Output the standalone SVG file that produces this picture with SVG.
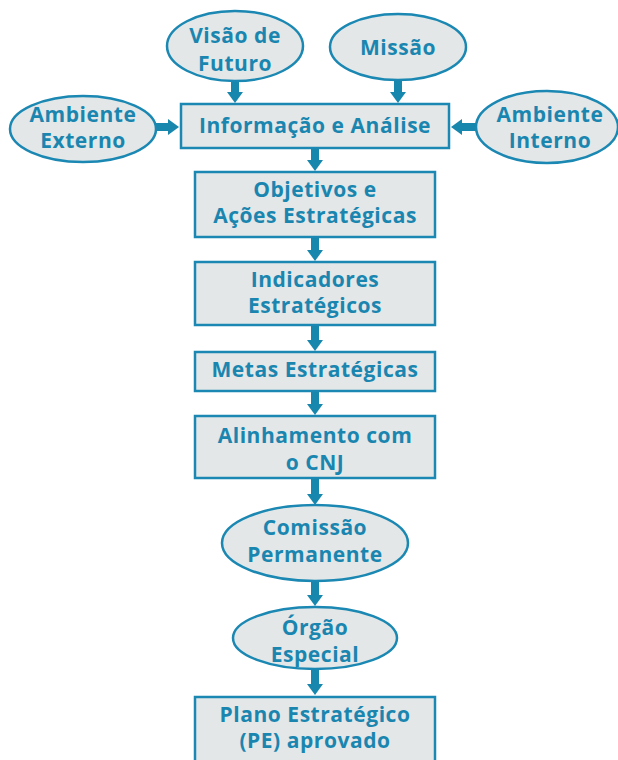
<svg xmlns="http://www.w3.org/2000/svg" width="618" height="760" viewBox="0 0 618 760">
<style>
.n{fill:#e3e7e8;stroke:#1a88b2;stroke-width:2.5}
.t{font-family:"Open Sans",Lato,"Liberation Sans",sans-serif;font-weight:bold;font-size:21px;letter-spacing:0.55px;fill:#1a86b0;text-anchor:middle}
.c{stroke:#1787ad;stroke-width:8;fill:none;marker-end:url(#ah)}
</style>
<defs>
<marker id="ah" markerUnits="userSpaceOnUse" markerWidth="12" markerHeight="18" viewBox="0 -9 12 18" refX="0" refY="0" orient="auto">
<path d="M0,-8 L11,0 L0,8 z" fill="#1787ad"/>
</marker>
</defs>
<rect width="618" height="760" fill="#ffffff"/>
<g id="connectors">
<line class="c" x1="235" y1="80" x2="235" y2="92"/>
<line class="c" x1="398" y1="79" x2="398" y2="92"/>
<line class="c" x1="156" y1="127" x2="168" y2="127"/>
<line class="c" x1="476" y1="127" x2="462" y2="127"/>
<line class="c" x1="315" y1="148" x2="315" y2="160"/>
<line class="c" x1="315" y1="237" x2="315" y2="250"/>
<line class="c" x1="315" y1="325" x2="315" y2="340"/>
<line class="c" x1="315" y1="391" x2="315" y2="404"/>
<line class="c" x1="315" y1="478" x2="315" y2="494"/>
<line class="c" x1="315" y1="581" x2="315" y2="595"/>
<line class="c" x1="315" y1="669" x2="315" y2="684"/>
</g>
<g id="visao">
<ellipse class="n" cx="235" cy="46" rx="68" ry="35"/>
<text class="t" x="235" y="43">Visão de</text>
<text class="t" x="235" y="71">Futuro</text>
</g>
<g id="missao">
<ellipse class="n" cx="398" cy="47" rx="68" ry="33"/>
<text class="t" x="398" y="55">Missão</text>
</g>
<g id="ambiente-externo">
<ellipse class="n" cx="83" cy="129" rx="73" ry="33"/>
<text class="t" x="83" y="122">Ambiente</text>
<text class="t" x="83" y="148">Externo</text>
</g>
<g id="ambiente-interno">
<ellipse class="n" cx="547" cy="127" rx="71" ry="36"/>
<text class="t" x="550" y="122">Ambiente</text>
<text class="t" x="550" y="148">Interno</text>
</g>
<g id="informacao">
<rect class="n" x="181" y="104" width="268" height="44"/>
<text class="t" x="315" y="133">Informação e Análise</text>
</g>
<g id="objetivos">
<rect class="n" x="195" y="172" width="240" height="65"/>
<text class="t" x="315" y="197">Objetivos e</text>
<text class="t" x="315" y="223">Ações Estratégicas</text>
</g>
<g id="indicadores">
<rect class="n" x="195" y="262" width="240" height="63"/>
<text class="t" x="315" y="287">Indicadores</text>
<text class="t" x="315" y="313">Estratégicos</text>
</g>
<g id="metas">
<rect class="n" x="195" y="352" width="240" height="39"/>
<text class="t" x="315" y="377">Metas Estratégicas</text>
</g>
<g id="alinhamento">
<rect class="n" x="195" y="416" width="240" height="62"/>
<text class="t" x="315" y="443">Alinhamento com</text>
<text class="t" x="315" y="470">o CNJ</text>
</g>
<g id="comissao">
<ellipse class="n" cx="315" cy="543" rx="93" ry="38"/>
<text class="t" x="315" y="535">Comissão</text>
<text class="t" x="315" y="562">Permanente</text>
</g>
<g id="orgao">
<ellipse class="n" cx="315" cy="638" rx="82" ry="31"/>
<text class="t" x="315" y="635">Órgão</text>
<text class="t" x="315" y="662">Especial</text>
</g>
<g id="plano">
<rect class="n" x="195" y="697" width="240" height="75"/>
<text class="t" x="315" y="722">Plano Estratégico</text>
<text class="t" x="315" y="748">(PE) aprovado</text>
</g>
</svg>
